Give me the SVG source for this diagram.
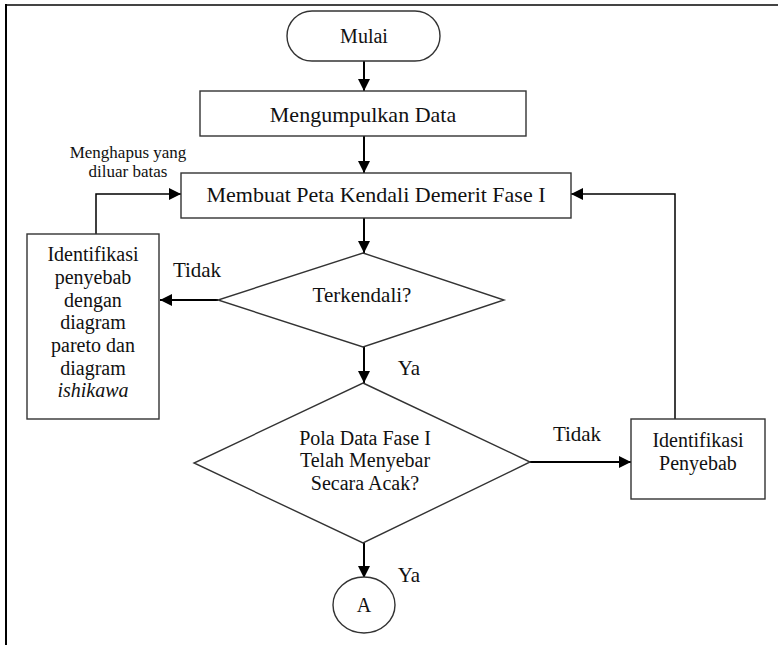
<svg xmlns="http://www.w3.org/2000/svg" width="778" height="645" viewBox="0 0 778 645">
<style>
  .shape { fill: #ffffff; stroke: #333333; stroke-width: 1.4; }
  .conn { fill: none; stroke: #000000; stroke-width: 2; }
  text { font-family: "Liberation Serif", "Times New Roman", serif; fill: #111111; text-anchor: middle; }
  .big { font-size: 22px; }
  .mid { font-size: 20px; }
  .lbl { font-size: 21px; }
  .note { font-size: 17px; }
</style>
<defs>
  <marker id="arrow" viewBox="0 0 12 12" refX="12" refY="6" markerWidth="12" markerHeight="12" markerUnits="userSpaceOnUse" orient="auto">
    <path d="M0,0 L12,6 L0,12 z" fill="#000000"/>
  </marker>
</defs>
<rect width="778" height="645" fill="#ffffff"/>
<g id="frame">
  <line x1="6" y1="5" x2="778" y2="5" stroke="#444444" stroke-width="2"/>
  <line x1="6" y1="4" x2="6" y2="645" stroke="#000000" stroke-width="2"/>
</g>
<g id="connectors">
  <line class="conn" x1="364" y1="61" x2="364" y2="91" marker-end="url(#arrow)"/>
  <line class="conn" x1="364" y1="136" x2="364" y2="173" marker-end="url(#arrow)"/>
  <line class="conn" x1="364" y1="218" x2="364" y2="253" marker-end="url(#arrow)"/>
  <line class="conn" x1="364" y1="347" x2="364" y2="383" marker-end="url(#arrow)"/>
  <line class="conn" x1="364" y1="543" x2="364" y2="578" marker-end="url(#arrow)"/>
  <line class="conn" x1="218" y1="300" x2="160" y2="300" marker-end="url(#arrow)"/>
  <line class="conn" x1="530" y1="462" x2="631" y2="462" marker-end="url(#arrow)"/>
  <polyline class="conn" points="96,234 96,194 181,194" marker-end="url(#arrow)" style="stroke-width:1.5"/>
  <polyline class="conn" points="675,419 675,194 571,194" marker-end="url(#arrow)" style="stroke-width:1.5"/>
  <text class="note" x="128" y="158">Menghapus yang</text>
  <text class="note" x="128" y="177">diluar batas</text>
  <text class="lbl" x="197" y="277">Tidak</text>
  <text class="lbl" x="409" y="375">Ya</text>
  <text class="lbl" x="577" y="441">Tidak</text>
  <text class="lbl" x="409" y="582">Ya</text>
</g>
<g id="mulai">
  <rect class="shape" x="287" y="11" width="153" height="50" rx="25" ry="25"/>
  <text class="mid" x="364" y="43">Mulai</text>
</g>
<g id="mengumpulkan">
  <rect class="shape" x="200" y="91" width="326" height="45"/>
  <text class="big" x="363" y="122">Mengumpulkan Data</text>
</g>
<g id="membuat-peta">
  <rect class="shape" x="181" y="173" width="390" height="45"/>
  <text class="big" x="376" y="202">Membuat Peta Kendali Demerit Fase I</text>
</g>
<g id="terkendali">
  <polygon class="shape" points="363,253 504,300 363,347 218,300"/>
  <text class="lbl" x="362" y="302">Terkendali?</text>
</g>
<g id="identifikasi-pareto">
  <rect class="shape" x="27" y="234" width="132" height="185"/>
  <text class="mid" x="93" y="261">Identifikasi</text>
  <text class="mid" x="93" y="284">penyebab</text>
  <text class="mid" x="93" y="306.5">dengan</text>
  <text class="mid" x="93" y="329">diagram</text>
  <text class="mid" x="93" y="352">pareto dan</text>
  <text class="mid" x="93" y="374.5">diagram</text>
  <text class="mid" x="93" y="397" font-style="italic">ishikawa</text>
</g>
<g id="pola-data">
  <polygon class="shape" points="363,383 530,462 363,543 194,463"/>
  <text class="mid" x="365" y="445">Pola Data Fase I</text>
  <text class="mid" x="365" y="467">Telah Menyebar</text>
  <text class="mid" x="365" y="490">Secara Acak?</text>
</g>
<g id="identifikasi-penyebab">
  <rect class="shape" x="631" y="419" width="134" height="80"/>
  <text class="mid" x="698" y="446.5">Identifikasi</text>
  <text class="mid" x="698" y="470">Penyebab</text>
</g>
<g id="konektor-a">
  <ellipse class="shape" cx="364" cy="605" rx="31" ry="28"/>
  <text class="mid" x="364" y="612">A</text>
</g>
</svg>
